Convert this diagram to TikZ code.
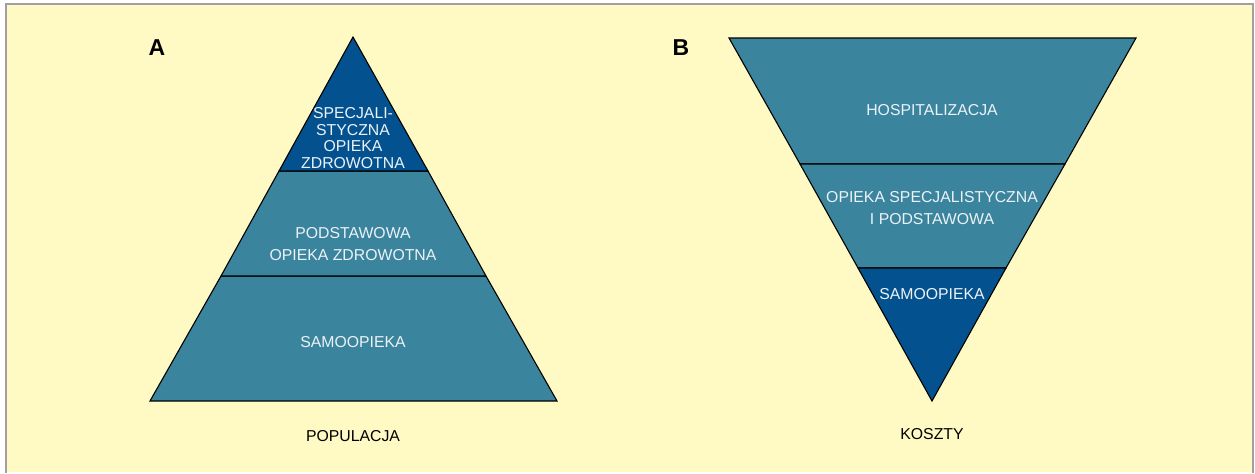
\documentclass[tikz,border=0pt]{standalone}
\usepackage{fontspec}
\setmainfont{Liberation Sans}
\usepackage{xcolor}
\usepackage{tikz}
\usetikzlibrary{positioning}
\definecolor{paper}{RGB}{255,249,196}
\definecolor{frameline}{RGB}{160,160,160}
\definecolor{layerteal}{RGB}{58,132,158}
\definecolor{layerblue}{RGB}{3,82,143}
\definecolor{labelwhite}{RGB}{236,242,246}
\tikzstyle{layer}=[draw=black, line width=1.1pt, line join=miter]
\tikzstyle{inlabel}=[text=labelwhite, font=\fontsize{15.8}{18}\selectfont, align=center, inner sep=0pt]
\tikzstyle{axislabel}=[text=black, font=\fontsize{15.8}{18}\selectfont, inner sep=0pt]
\tikzstyle{panellabel}=[text=black, font=\fontsize{23}{26}\selectfont\bfseries, inner sep=0pt]

\begin{document}
\begin{tikzpicture}[x=1pt, y=-1pt]
\fill[white] (0,0) rectangle (1255,472);
\fill[paper] (6,4) rectangle (1253,472);
\draw[frameline, line width=1.5pt] (6,473) -- (6,4) -- (1253,4) -- (1253,473);
\useasboundingbox (0,0) rectangle (1255,472);

% A: pyramid (population)
\filldraw[layer, fill=layerteal] (150,401) -- (221,276) -- (486,276) -- (557,401) -- cycle;
\filldraw[layer, fill=layerteal] (221,276) -- (279,171) -- (428,171) -- (486,276) -- cycle;
\filldraw[layer, fill=layerblue] (279,171) -- (353,37) -- (428,171) -- cycle;
\node [panellabel] (labA) at (157,48) {A};
\node [inlabel, font=\fontsize{15.8}{16.8}\selectfont] (spec) at (353,138) {SPECJALI-\\STYCZNA\\OPIEKA\\ZDROWOTNA};
\node [inlabel, font=\fontsize{15.8}{21.5}\selectfont] (podst) at (353,244) {PODSTAWOWA\\OPIEKA ZDROWOTNA};
\node [inlabel] (samoA) at (353,342) {SAMOOPIEKA};
\node [axislabel] (pop) at (353,436) {POPULACJA};

% B: inverted pyramid (costs)
\filldraw[layer, fill=layerteal] (729,38) -- (1136,38) -- (1065,164) -- (800,164) -- cycle;
\filldraw[layer, fill=layerteal] (800,164) -- (1065,164) -- (1006,268) -- (858,268) -- cycle;
\filldraw[layer, fill=layerblue] (858,268) -- (1006,268) -- (932,401) -- cycle;
\node [panellabel] (labB) at (681,48) {B};
\node [inlabel] (hosp) at (932,110) {HOSPITALIZACJA};
\node [inlabel, font=\fontsize{15.8}{21.5}\selectfont] (opspec) at (932,208) {OPIEKA SPECJALISTYCZNA\\I PODSTAWOWA};
\node [inlabel] (samoB) at (932,294) {SAMOOPIEKA};
\node [axislabel] (koszt) at (932,434) {KOSZTY};
\end{tikzpicture}
\end{document}
